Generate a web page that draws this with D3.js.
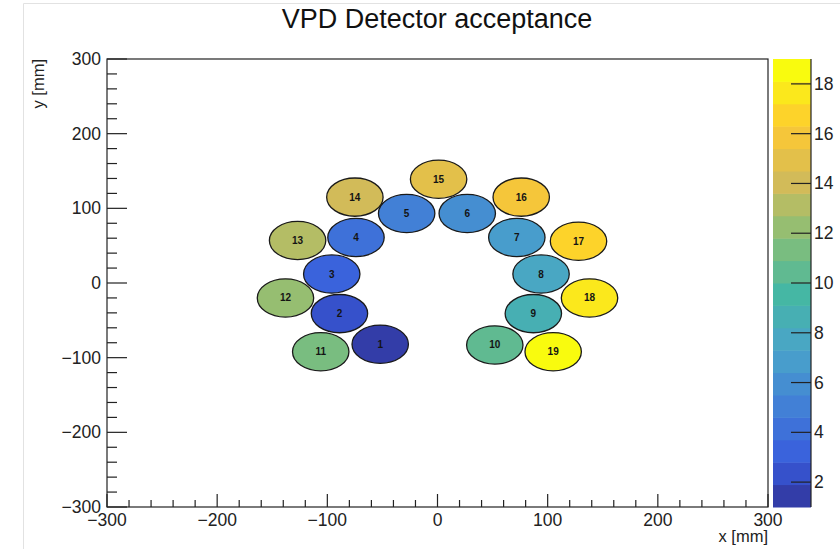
<!DOCTYPE html>
<html>
<head>
<meta charset="utf-8">
<script src="https://cdn.jsdelivr.net/npm/d3@7"></script>
<style>
  html, body { margin: 0; padding: 0; background: #fff; }
  svg { display: block; font-family: "Liberation Sans", Arial, sans-serif; }
</style>
</head>
<body>
<svg id="chart" width="840" height="549"></svg>
<script>
// VPD tube layout (x, y centres in mm) and the bin content of each tube
const tubeIds  = [1, 2, 3, 4, 5, 6, 7, 8, 9, 10, 11, 12, 13, 14, 15, 16, 17, 18, 19];
const tubeX    = [-52, -89, -96, -74, -28, 27, 72, 94, 87, 52, -106, -138, -127, -75, 1, 76, 128, 138, 105];
const tubeY    = [-82, -41, 12, 61, 93, 93, 61, 12, -41, -83, -92, -20, 57, 115, 139, 115, 56, -20, -92];
const tubeContent = [1, 2, 3, 4, 5, 6, 7, 8, 9, 10, 11, 12, 13, 14, 15, 16, 17, 18, 19];
const tubeRadius = 25.6;

// axis ticks
const xTicks = [-300, -200, -100, 0, 100, 200, 300];
const yTicks = [-300, -200, -100, 0, 100, 200, 300];
const zTicks = [2, 4, 6, 8, 10, 12, 14, 16, 18];

// z range and number of colour contours
const zMin = 1, zMax = 19, nContours = 20;

// bird-like palette stops (blue -> teal -> green -> orange -> yellow)
const birdStops = [0, 0.125, 0.25, 0.375, 0.5, 0.625, 0.75, 0.875, 1];
const birdR = [0.19, 0.22, 0.26, 0.29, 0.27, 0.53, 0.82, 0.9956, 0.9764];
const birdG = [0.1664, 0.3599, 0.5041, 0.6419, 0.7178, 0.7492, 0.7328, 0.7862, 0.9832];
const birdB = [0.5293, 0.8684, 0.8385, 0.7914, 0.6425, 0.4662, 0.3499, 0.1968, 0.0539];

const svg = d3.select("#chart");
const W = 840, H = 549;
const frame = { left: 107, right: 768, top: 59, bottom: 507 };
const bar = { left: 773, right: 811 };

const x = d3.scaleLinear().domain([-300, 300]).range([frame.left, frame.right]);
const y = d3.scaleLinear().domain([-300, 300]).range([frame.bottom, frame.top]);
const z = d3.scaleLinear().domain([zMin, zMax]).range([frame.bottom, frame.top]);

const birdScale = d3.scaleLinear()
  .domain(birdStops)
  .range(birdStops.map((s, i) => d3.rgb(birdR[i] * 255, birdG[i] * 255, birdB[i] * 255)))
  .interpolate(d3.interpolateRgb);

const nColors = 255;
function contourColor(band) {
  const idx = Math.floor((band + 0.99) * nColors / nContours);
  return birdScale(Math.min(idx, nColors - 1) / (nColors - 1));
}
function bandOf(v) {
  const b = Math.floor(0.01 + (v - zMin) * nContours / (zMax - zMin));
  return Math.max(0, Math.min(nContours - 1, b));
}

// canvas edge
svg.append("path")
  .attr("d", `M23.5,${H} V3.5 H${W}`)
  .attr("fill", "none").attr("stroke", "#e2e2e2").attr("stroke-width", 1);

// title
svg.append("text")
  .attr("x", 437).attr("y", 28)
  .attr("text-anchor", "middle")
  .attr("font-size", 27)
  .attr("fill", "#111")
  .text("VPD Detector acceptance");

// tubes
const tubes = tubeIds.map((id, i) => ({ id, cx: tubeX[i], cy: tubeY[i], v: tubeContent[i] }));
const g = svg.append("g");
g.selectAll("ellipse").data(tubes).join("ellipse")
  .attr("cx", d => x(d.cx))
  .attr("cy", d => y(d.cy))
  .attr("rx", d => x(d.cx + tubeRadius) - x(d.cx))
  .attr("ry", d => y(d.cy) - y(d.cy + tubeRadius))
  .attr("fill", d => contourColor(bandOf(d.v)))
  .attr("stroke", "#1a1a1a")
  .attr("stroke-width", 1.3);
g.selectAll("text").data(tubes).join("text")
  .attr("x", d => x(d.cx))
  .attr("y", d => y(d.cy) + 3.5)
  .attr("text-anchor", "middle")
  .attr("font-size", 10)
  .attr("font-weight", "bold")
  .attr("fill", "#141414")
  .text(d => d.id);

// frame
svg.append("rect")
  .attr("x", frame.left).attr("y", frame.top)
  .attr("width", frame.right - frame.left).attr("height", frame.bottom - frame.top)
  .attr("fill", "none").attr("stroke", "#222").attr("stroke-width", 1.2);

const fmt = v => (v < 0 ? "\u2212" + Math.abs(v) : String(v));
const minorX = d3.range(-300, 301, 20).filter(v => v % 100 !== 0);
const minorY = minorX;

// axis ticks
const ax = svg.append("g").attr("stroke", "#222").attr("stroke-width", 1.2);
ax.selectAll("line.xM").data(xTicks).join("line").attr("class", "xM")
  .attr("x1", d => x(d)).attr("x2", d => x(d))
  .attr("y1", frame.bottom).attr("y2", frame.bottom - 13);
ax.selectAll("line.xm").data(minorX).join("line").attr("class", "xm")
  .attr("x1", d => x(d)).attr("x2", d => x(d))
  .attr("y1", frame.bottom).attr("y2", frame.bottom - 7);
ax.selectAll("line.yM").data(yTicks).join("line").attr("class", "yM")
  .attr("y1", d => y(d)).attr("y2", d => y(d))
  .attr("x1", frame.left).attr("x2", frame.left + 20);
ax.selectAll("line.ym").data(minorY).join("line").attr("class", "ym")
  .attr("y1", d => y(d)).attr("y2", d => y(d))
  .attr("x1", frame.left).attr("x2", frame.left + 10);

const labelSize = 17.5;
svg.append("g").selectAll("text").data(xTicks).join("text")
  .attr("x", d => x(d)).attr("y", 526)
  .attr("text-anchor", "middle").attr("font-size", labelSize).attr("fill", "#222")
  .text(fmt);
svg.append("g").selectAll("text").data(yTicks).join("text")
  .attr("x", 101).attr("y", d => y(d) + 6)
  .attr("text-anchor", "end").attr("font-size", labelSize).attr("fill", "#222")
  .text(fmt);

// axis titles
svg.append("text")
  .attr("x", frame.right).attr("y", 542)
  .attr("text-anchor", "end").attr("font-size", 16.5).attr("fill", "#222")
  .text("x [mm]");
svg.append("text")
  .attr("transform", `translate(44,${frame.top}) rotate(-90)`)
  .attr("text-anchor", "end").attr("font-size", 16.5).attr("fill", "#222")
  .text("y [mm]");

// colour bar
const levels = d3.range(nContours);
const step = (zMax - zMin) / nContours;
svg.append("g").selectAll("rect").data(levels).join("rect")
  .attr("x", bar.left)
  .attr("width", bar.right - bar.left)
  .attr("y", i => z(zMin + (i + 1) * step))
  .attr("height", i => z(zMin + i * step) - z(zMin + (i + 1) * step) + 0.5)
  .attr("fill", i => contourColor(i));
svg.append("line")
  .attr("x1", bar.right).attr("x2", bar.right)
  .attr("y1", frame.top).attr("y2", frame.bottom)
  .attr("stroke", "#222").attr("stroke-width", 1.2);
svg.append("g").attr("stroke", "#222").attr("stroke-width", 1.2)
  .selectAll("line").data(zTicks).join("line")
  .attr("x1", bar.right - 20).attr("x2", bar.right)
  .attr("y1", d => z(d)).attr("y2", d => z(d));
svg.append("g").selectAll("text").data(zTicks).join("text")
  .attr("x", 814).attr("y", d => z(d) + 6)
  .attr("font-size", labelSize).attr("fill", "#222")
  .text(d => d);
</script>
</body>
</html>
